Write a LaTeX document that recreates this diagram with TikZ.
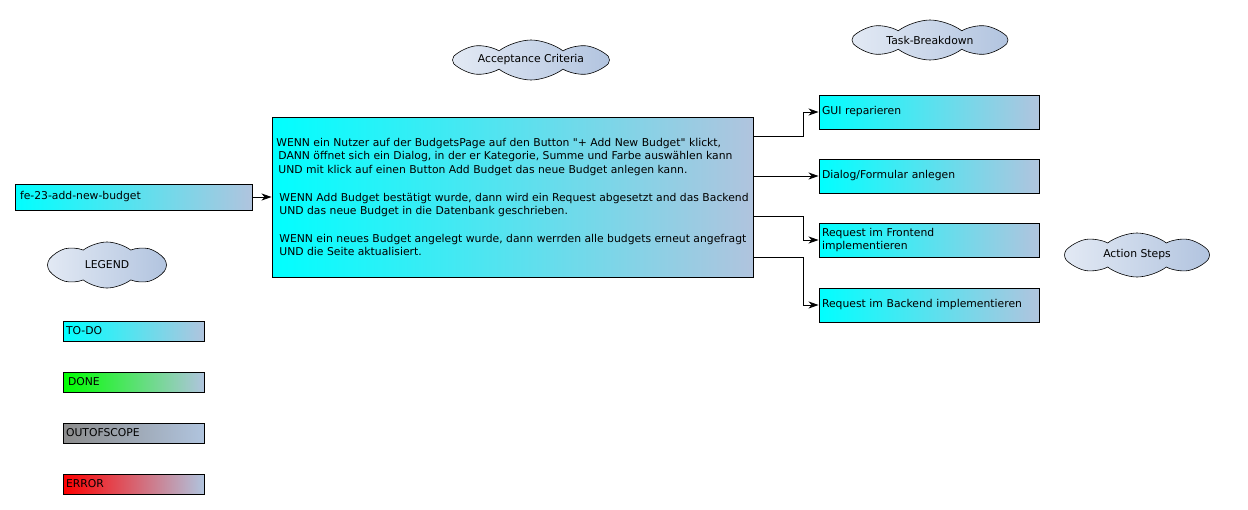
\documentclass[tikz,border=0pt]{standalone}
\usepackage{fontspec}
\setmainfont{DejaVu Sans}
\usepackage{xcolor}
\usepackage{tikz}
\usetikzlibrary{arrows.meta, shapes.symbols}

\definecolor{todocyan}{HTML}{00FFFF}
\definecolor{steelend}{HTML}{B0C4DE}
\definecolor{donegreen}{HTML}{00FF00}
\definecolor{scopegray}{HTML}{8C8C8C}
\definecolor{errorred}{HTML}{FF0000}
\definecolor{cloudleft}{HTML}{E2E9F4}
\definecolor{cloudright}{HTML}{B2C4DF}

\begin{document}
\begin{tikzpicture}[x=1pt, y=-1pt,
    every node/.style={font=\fontsize{10.8}{13.7}\selectfont},
    box/.style={draw, line width=0.9pt, rectangle, left color=todocyan, right color=steelend, align=left, inner ysep=0pt, inner xsep=3pt},
    task/.style={box, text width=214pt, minimum height=34pt},
    legendbox/.style={box, text width=135pt, minimum height=20pt},
    cloudlabel/.style={cloud, cloud puffs=8, cloud puff arc=75, cloud ignores aspect, draw, line width=0.6pt, left color=cloudleft, right color=cloudright, inner sep=0pt},
    conn/.style={line width=0.9pt, -{Stealth[length=10pt, width=7pt, inset=3pt]}}]
    \useasboundingbox (0,0) rectangle (1248,509);

    % clouds
    \node[cloudlabel, minimum width=157pt, minimum height=40pt] (accept) at (531,60) {Acceptance Criteria};
    \node[cloudlabel, minimum width=156pt, minimum height=40pt] (breakdown) at (930,40) {Task-Breakdown};
    \node[cloudlabel, minimum width=145pt, minimum height=44pt] (steps) at (1137,255) {Action Steps};
    \node[cloudlabel, minimum width=119pt, minimum height=46pt] (legend) at (107,265) {LEGEND};

    % ticket and criteria
    \node[box, text width=227pt, inner xsep=5pt, minimum height=26pt] (ticket) at (133.5,197) {fe-23-add-new-budget};
    \node[box, minimum width=481pt, minimum height=160pt] (main) at (512.5,197) {WENN ein Nutzer auf der BudgetsPage auf den Button \textquotedbl+ Add New Budget\textquotedbl{} klickt,\\
        \hspace*{2pt}DANN öffnet sich ein Dialog, in der er Kategorie, Summe und Farbe auswählen kann\\
        \hspace*{2pt}UND mit klick auf einen Button Add Budget das neue Budget anlegen kann.\\[13.7pt]
        \hspace*{3pt}WENN Add Budget bestätigt wurde, dann wird ein Request abgesetzt and das Backend\\
        \hspace*{3pt}UND das neue Budget in die Datenbank geschrieben.\\[13.7pt]
        \hspace*{3pt}WENN ein neues Budget angelegt wurde, dann werrden alle budgets erneut angefragt\\
        \hspace*{3pt}UND die Seite aktualisiert.};

    % tasks
    \node[task] (t1) at (929,112) {GUI reparieren};
    \node[task] (t2) at (929,176) {Dialog/Formular anlegen};
    \node[task] (t3) at (929,240) {Request im Frontend\\implementieren};
    \node[task] (t4) at (929,305) {Request im Backend implementieren};

    % legend
    \node[legendbox] (todo) at (133.5,331) {TO-DO};
    \node[legendbox, left color=donegreen] (done) at (133.5,382) {\hspace*{2pt}DONE};
    \node[legendbox, left color=scopegray] (outofscope) at (133.5,433) {OUTOFSCOPE};
    \node[legendbox, left color=errorred] (error) at (133.5,484) {ERROR};

    \draw[conn] (ticket.east) -- (main.west);
    \draw[conn] ([yshift=-20pt]main.north east) -- ++(50,0) |- (t1.west);
    \draw[conn] (main.east |- t2.west) -- (t2.west);
    \draw[conn] ([yshift=-100pt]main.north east) -- ++(50,0) |- (t3.west);
    \draw[conn] ([yshift=20pt]main.south east) -- ++(50,0) |- (t4.west);
\end{tikzpicture}
\end{document}
